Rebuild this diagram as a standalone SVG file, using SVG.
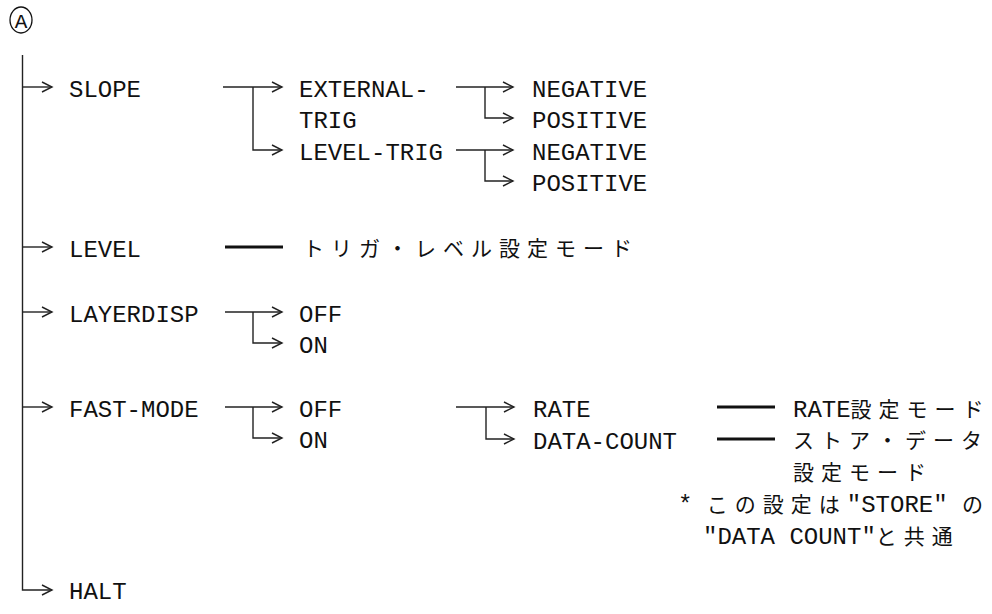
<svg xmlns="http://www.w3.org/2000/svg" width="992" height="614" viewBox="0 0 992 614">
<style>
.m{font-family:"Liberation Mono","DejaVu Sans Mono",monospace;font-size:24px;fill:#111}
.j{font-family:"Noto Sans CJK JP","Noto Sans CJK SC",sans-serif;font-size:21px;letter-spacing:7px;fill:#111}
.c{fill:none;stroke:#222;stroke-width:1.4}
.t{fill:none;stroke:#111;stroke-width:3}
</style>
<defs>
<marker id="ah" markerUnits="userSpaceOnUse" markerWidth="14" markerHeight="14" refX="11" refY="6" orient="auto">
<path d="M1,1 L11,6 L1,11" fill="none" stroke="#222" stroke-width="1.4"/>
</marker>
</defs>
<rect width="992" height="614" fill="#fff"/>
<g id="root"><ellipse cx="21" cy="20" rx="11" ry="13" fill="none" stroke="#111" stroke-width="1.3"/><text x="21" y="27.5" text-anchor="middle" style="font-family:'Liberation Mono',monospace;font-size:21px;fill:#111">A</text></g>
<g id="connectors">
<path class="c" d="M22.5,55 V590 H52" marker-end="url(#ah)"/>
<path class="c" d="M22.5,87 H52" marker-end="url(#ah)"/>
<path class="c" d="M22.5,247 H52" marker-end="url(#ah)"/>
<path class="c" d="M22.5,312 H52" marker-end="url(#ah)"/>
<path class="c" d="M22.5,407 H52" marker-end="url(#ah)"/>
<path class="c" d="M223,87 H282" marker-end="url(#ah)"/>
<path class="c" d="M253,87 V150 H282" marker-end="url(#ah)"/>
<path class="c" d="M456,87 H513" marker-end="url(#ah)"/>
<path class="c" d="M485,87 V118 H513" marker-end="url(#ah)"/>
<path class="c" d="M456,150 H513" marker-end="url(#ah)"/>
<path class="c" d="M485,150 V181 H513" marker-end="url(#ah)"/>
<path class="t" d="M225,247 H283"/>
<path class="c" d="M225,312 H282" marker-end="url(#ah)"/>
<path class="c" d="M253,312 V343 H282" marker-end="url(#ah)"/>
<path class="c" d="M225,407 H282" marker-end="url(#ah)"/>
<path class="c" d="M253,407 V438 H282" marker-end="url(#ah)"/>
<path class="c" d="M456,407 H514" marker-end="url(#ah)"/>
<path class="c" d="M486,407 V439 H514" marker-end="url(#ah)"/>
<path class="t" d="M717,407 H775"/>
<path class="t" d="M717,439 H775"/>
</g>
<g id="slope"><text class="m" x="69" y="97">SLOPE</text></g>
<g id="external-trig"><text class="m" x="299" y="97">EXTERNAL-</text><text class="m" x="299" y="128">TRIG</text></g>
<g id="level-trig"><text class="m" x="299" y="160">LEVEL-TRIG</text></g>
<g id="ext-negative"><text class="m" x="532" y="97">NEGATIVE</text></g>
<g id="ext-positive"><text class="m" x="532" y="128">POSITIVE</text></g>
<g id="lvl-negative"><text class="m" x="532" y="160">NEGATIVE</text></g>
<g id="lvl-positive"><text class="m" x="532" y="191">POSITIVE</text></g>
<g id="level"><text class="m" x="69" y="257">LEVEL</text></g>
<g id="trigger-level-mode"><text class="j" x="303" y="256">トリガ・レベル設定モード</text></g>
<g id="layerdisp"><text class="m" x="69" y="322">LAYERDISP</text></g>
<g id="layer-off"><text class="m" x="299" y="322">OFF</text></g>
<g id="layer-on"><text class="m" x="299" y="353">ON</text></g>
<g id="fast-mode"><text class="m" x="69" y="417">FAST-MODE</text></g>
<g id="fast-off"><text class="m" x="299" y="417">OFF</text></g>
<g id="fast-on"><text class="m" x="299" y="448">ON</text></g>
<g id="rate"><text class="m" x="533" y="417">RATE</text></g>
<g id="data-count"><text class="m" x="533" y="449">DATA-COUNT</text></g>
<g id="rate-mode"><text x="793" y="417"><tspan class="m">RATE</tspan><tspan class="j">設定モード</tspan></text></g>
<g id="store-data-mode"><text class="j" x="793" y="448">ストア・データ</text><text class="j" x="793" y="480">設定モード</text></g>
<g id="note"><text x="678" y="512"><tspan class="m">* </tspan><tspan class="j">この設定は</tspan><tspan class="m">"STORE" </tspan><tspan class="j">の</tspan></text><text x="703" y="544"><tspan class="m">"DATA COUNT"</tspan><tspan class="j">と共通</tspan></text></g>
<g id="halt"><text class="m" x="69" y="599">HALT</text></g>
</svg>
